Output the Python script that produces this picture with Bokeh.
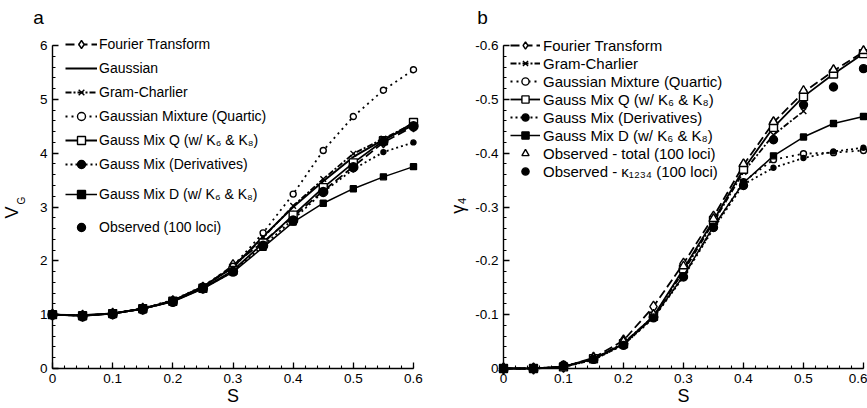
import math

from bokeh.embed import file_html
from bokeh.layouts import row
from bokeh.models import (CustomJSTickFormatter, FixedTicker, Label, Legend,
                          LegendItem, Range1d)
from bokeh.plotting import figure
from bokeh.resources import INLINE

# ---------------------------------------------------------------- data
s = [0.0, 0.05, 0.10, 0.15, 0.20, 0.25, 0.30, 0.35, 0.40, 0.45, 0.50, 0.55, 0.60]
s_gc_b = s[:11]  # Gram-Charlier in panel b stops at s = 0.5

# panel a: genetic variance V_G
vg_fourier = [1.00, 0.98, 1.02, 1.11, 1.25, 1.50, 1.92, 2.35, 2.82, 3.30, 3.75, 4.20, 4.50]
vg_gauss = [1.00, 0.99, 1.02, 1.11, 1.26, 1.52, 1.88, 2.45, 3.00, 3.48, 3.93, 4.25, 4.52]
vg_gram = [1.00, 0.99, 1.02, 1.11, 1.26, 1.52, 1.88, 2.43, 3.02, 3.52, 3.99, 4.27, 4.55]
vg_quartic = [1.00, 0.99, 1.02, 1.12, 1.27, 1.53, 1.90, 2.52, 3.24, 4.05, 4.68, 5.17, 5.55]
vg_mixq = [1.00, 0.98, 1.02, 1.11, 1.25, 1.49, 1.82, 2.33, 2.85, 3.36, 3.82, 4.23, 4.57]
vg_deriv = [1.00, 0.98, 1.02, 1.11, 1.25, 1.49, 1.80, 2.28, 2.77, 3.28, 3.70, 4.02, 4.20]
vg_mixd = [1.00, 0.98, 1.02, 1.11, 1.24, 1.48, 1.79, 2.25, 2.72, 3.07, 3.34, 3.56, 3.75]
vg_obs = [1.00, 0.97, 1.01, 1.10, 1.24, 1.49, 1.80, 2.28, 2.75, 3.28, 3.74, 4.22, 4.50]

# panel b: kurtosis gamma_4
g4_fourier = [0.0, 0.0, -0.003, -0.020, -0.052, -0.115, -0.195, -0.282, -0.378, -0.457, -0.513, -0.553, -0.588]
g4_gram = [0.0, 0.0, -0.004, -0.018, -0.047, -0.097, -0.180, -0.272, -0.365, -0.434, -0.478]
g4_quartic = [0.0, 0.0, -0.003, -0.016, -0.044, -0.094, -0.172, -0.262, -0.347, -0.388, -0.399, -0.401, -0.405]
g4_mixq = [0.0, 0.0, -0.003, -0.018, -0.046, -0.097, -0.185, -0.275, -0.370, -0.448, -0.505, -0.547, -0.585]
g4_deriv = [0.0, 0.0, -0.003, -0.016, -0.044, -0.094, -0.170, -0.260, -0.342, -0.373, -0.391, -0.403, -0.410]
g4_mixd = [0.0, 0.0, -0.003, -0.017, -0.045, -0.095, -0.172, -0.264, -0.345, -0.395, -0.430, -0.455, -0.468]
g4_obs_total = [0.0, 0.0, -0.005, -0.020, -0.050, -0.100, -0.190, -0.278, -0.380, -0.458, -0.516, -0.555, -0.590]
g4_obs_k1234 = [0.0, 0.0, -0.006, -0.017, -0.043, -0.094, -0.170, -0.262, -0.340, -0.425, -0.490, -0.523, -0.557]

s_ticks = [0.0, 0.1, 0.2, 0.3, 0.4, 0.5, 0.6]
vg_ticks = [0, 1, 2, 3, 4, 5, 6]
g4_ticks = [0.0, -0.1, -0.2, -0.3, -0.4, -0.5, -0.6]

# ---------------------------------------------------------------- style
FONT = "Liberation Sans"
INK = "black"
H = 408
LW = 1.8


def lin(v0, p0, v1, p1):
    """Map a pixel position to a data value along one axis."""
    k = (v1 - v0) / (p1 - p0)
    return lambda p: v0 + (p - p0) * k


def base_figure(width, fx, fy):
    # the plotting frame fills the whole canvas; axes sit at fixed data positions
    p = figure(width=width, height=H, output_backend="svg", toolbar_location=None,
               title=None,
               x_range=Range1d(fx(0), fx(width)),
               y_range=Range1d(fy(H), fy(0)),
               min_border_left=0, min_border_right=0,
               min_border_top=0, min_border_bottom=0)
    p.xgrid.visible = False
    p.ygrid.visible = False
    p.outline_line_color = None
    p.background_fill_color = "white"
    p.border_fill_color = "white"
    return p


def style_axis(ax, ticks, minor, fmt, bounds, fixed):
    ax.ticker = FixedTicker(ticks=ticks, minor_ticks=minor)
    ax.formatter = CustomJSTickFormatter(code=fmt)
    ax.bounds = bounds
    ax.fixed_location = fixed
    ax.axis_line_color = INK
    ax.axis_line_width = 1.4
    ax.major_tick_line_color = INK
    ax.major_tick_line_width = 1.3
    ax.minor_tick_line_color = INK
    ax.minor_tick_line_width = 1.1
    ax.major_tick_in = 6
    ax.major_tick_out = 0
    ax.minor_tick_in = 3
    ax.minor_tick_out = 0
    ax.major_label_text_font = FONT
    ax.major_label_text_font_size = "13.5px"
    ax.major_label_text_color = INK
    ax.major_label_standoff = 5
    ax.axis_label_text_font = FONT
    ax.axis_label_text_font_style = "normal"
    ax.axis_label_text_font_size = "18px"
    ax.axis_label_text_color = INK


def series(p, x, y, dash=None, marker=None, size=8, fill="white", lw=LW):
    rs = []
    if dash is not None:
        rs.append(p.line(x, y, line_color=INK, line_width=lw, line_dash=dash))
    if marker is not None:
        rs.append(p.scatter(x, y, marker=marker, size=size, fill_color=fill,
                            line_color=INK, line_width=1.4))
    return rs


def legend(items, vx, vy, row_h, spacing, glyph_w, standoff, font_size):
    return Legend(items=items, location=(vx, vy), orientation="vertical",
                  padding=0, margin=0, spacing=spacing,
                  glyph_width=glyph_w, glyph_height=row_h, label_height=row_h,
                  label_standoff=standoff,
                  label_text_font=FONT, label_text_font_size=font_size,
                  label_text_color=INK,
                  background_fill_alpha=0, border_line_alpha=0)


def text_label(fx, fy, px, py, text, size, angle=0.0):
    return Label(x=fx(px), y=fy(py), text=text, angle=angle,
                 text_font=FONT, text_font_size=size, text_color=INK,
                 text_align="center", text_baseline="middle")


minor_s = [round(0.02 * i, 2) for i in range(31)]

# ---------------------------------------------------------------- panel a
WA = 440
ax_ = lin(0.0, 52, 0.6, 413)
ay_ = lin(0.0, 368, 6.0, 45)
pa = base_figure(WA, ax_, ay_)

style_axis(pa.xaxis[0], s_ticks, minor_s,
           "return tick == 0 ? '0' : tick.toFixed(1);", (0, 0.6), 0)
style_axis(pa.yaxis[0], vg_ticks, [round(0.2 * i, 1) for i in range(31)],
           "return tick.toFixed(0);", (0, 6), 0)
pa.xaxis[0].axis_label = "S"
pa.xaxis[0].axis_label_standoff = 0

ra_fourier = series(pa, s, vg_fourier, dash="9 4", marker="diamond", size=11)
ra_gauss = series(pa, s, vg_gauss, dash="solid", lw=2.0)
ra_gram = series(pa, s, vg_gram, dash="6 2 2 2", marker="x", size=8)
ra_quartic = series(pa, s, vg_quartic, dash="2 4", marker="circle", size=6)
ra_mixq = series(pa, s, vg_mixq, dash="solid", marker="square", size=8)
ra_deriv = series(pa, s, vg_deriv, dash="2 3", marker="circle", size=5, fill=INK)
ra_mixd = series(pa, s, vg_mixd, dash="solid", marker="square", size=6, fill=INK, lw=1.5)
ra_obs = series(pa, s, vg_obs, marker="circle", size=9, fill=INK)

# legend locations: left edge and bottom edge, in pixels from the canvas bottom-left
la1 = legend([
    LegendItem(label="Fourier Transform", renderers=ra_fourier),
    LegendItem(label="Gaussian", renderers=ra_gauss),
    LegendItem(label="Gram-Charlier", renderers=ra_gram),
    LegendItem(label="Gaussian Mixture (Quartic)", renderers=ra_quartic),
    LegendItem(label="Gauss Mix Q (w/ K\u2086 & K\u2088)", renderers=ra_mixq),
    LegendItem(label="Gauss Mix (Derivatives)", renderers=ra_deriv),
], vx=65, vy=H - 174, row_h=20, spacing=4, glyph_w=32, standoff=2, font_size="14px")
la2 = legend([
    LegendItem(label="Gauss Mix D (w/ K\u2086 & K\u2088)", renderers=ra_mixd),
    LegendItem(label="Observed (100 loci)", renderers=ra_obs),
], vx=65, vy=H - 237, row_h=20, spacing=13, glyph_w=32, standoff=2, font_size="14px")
pa.add_layout(la1)
pa.add_layout(la2)

pa.add_layout(text_label(ax_, ay_, 38, 17, "a", "19px"))
# rotated y title V_G, with the subscript set as a smaller raised text
pa.add_layout(text_label(ax_, ay_, 11, 212, "V", "18px", math.pi / 2))
pa.add_layout(text_label(ax_, ay_, 21, 200, "G", "10px", math.pi / 2))

# ---------------------------------------------------------------- panel b
WB = 427
bx_ = lin(0.0, 63, 0.6, 423)
by_ = lin(0.0, 368, -0.6, 45)
pb = base_figure(WB, bx_, by_)

style_axis(pb.xaxis[0], s_ticks, minor_s,
           "return tick == 0 ? '0' : tick.toFixed(1);", (0, 0.6), 0)
style_axis(pb.yaxis[0], g4_ticks, [round(-0.02 * i, 2) for i in range(31)],
           "return tick == 0 ? '0' : tick.toFixed(1);", (-0.6, 0), 0)
pb.xaxis[0].axis_label = "S"
pb.xaxis[0].axis_label_standoff = 0

rb_fourier = series(pb, s, g4_fourier, dash="9 4", marker="diamond", size=11)
rb_gram = series(pb, s_gc_b, g4_gram, dash="6 2 2 2", marker="x", size=8)
rb_quartic = series(pb, s, g4_quartic, dash="2 4", marker="circle", size=6)
rb_mixq = series(pb, s, g4_mixq, dash="solid", marker="square", size=8)
rb_deriv = series(pb, s, g4_deriv, dash="2 3", marker="circle", size=5, fill=INK)
rb_mixd = series(pb, s, g4_mixd, dash="solid", marker="square", size=6, fill=INK, lw=1.5)
rb_total = series(pb, s, g4_obs_total, marker="triangle", size=9)
rb_k1234 = series(pb, s, g4_obs_k1234, marker="circle", size=8, fill=INK)

lb = legend([
    LegendItem(label="Fourier Transform", renderers=rb_fourier),
    LegendItem(label="Gram-Charlier", renderers=rb_gram),
    LegendItem(label="Gaussian Mixture (Quartic)", renderers=rb_quartic),
    LegendItem(label="Gauss Mix Q (w/ K\u2086 & K\u2088)", renderers=rb_mixq),
    LegendItem(label="Gauss Mix (Derivatives)", renderers=rb_deriv),
    LegendItem(label="Gauss Mix D (w/ K\u2086 & K\u2088)", renderers=rb_mixd),
    LegendItem(label="Observed - total (100 loci)", renderers=rb_total),
    LegendItem(label="Observed - \u03ba\u2081\u2082\u2083\u2084 (100 loci)", renderers=rb_k1234),
], vx=70, vy=H - 180, row_h=18, spacing=0, glyph_w=30, standoff=3, font_size="15px")
pb.add_layout(lb)

pb.add_layout(text_label(bx_, by_, 42, 17, "b", "19px"))
pb.add_layout(text_label(bx_, by_, 17, 205, "\u03b3\u2084", "18px", math.pi / 2))

layout = row(pa, pb)
open("out.html", "w").write(file_html(layout, INLINE))
